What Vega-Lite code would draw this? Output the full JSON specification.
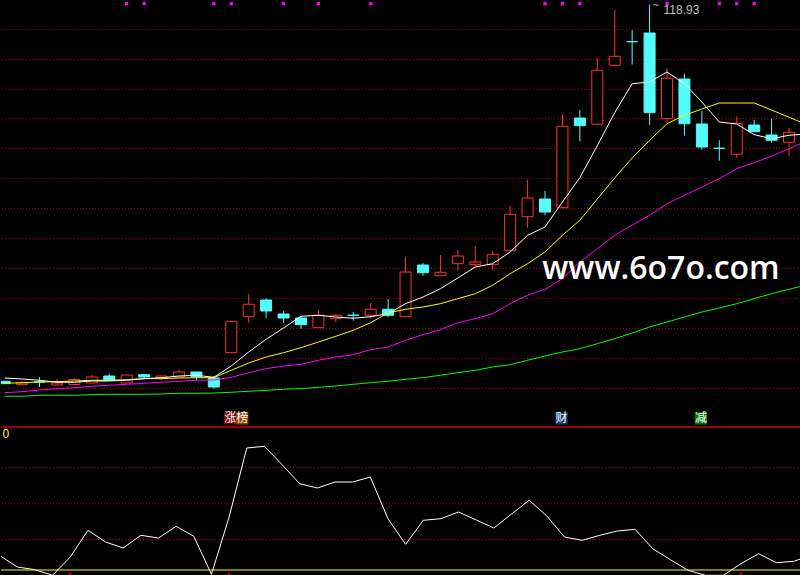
{
  "$schema": "https://vega.github.io/schema/vega-lite/v6.json",
  "background": "#000000",
  "padding": 0,
  "spacing": 0,
  "config": {"view": {"stroke": null}, "concat": {"spacing": 0}},
  "datasets": {
    "candles": [
      {"i": -1, "open": 24.78, "high": 24.78, "low": 24.18, "close": 24.18, "ma5": 25.6, "ma10": 24.28, "ma20": 21.93, "ma60": 21.03, "sig": 0},
      {"i": 0, "open": 23.93, "high": 24.85, "low": 23.85, "close": 24.35, "ma5": 25.35, "ma10": 24.43, "ma20": 22.18, "ma60": 21.03, "sig": 0},
      {"i": 1, "open": 24.6, "high": 25.85, "low": 23.35, "close": 24.6, "ma5": 25.03, "ma10": 24.6, "ma20": 22.6, "ma60": 21.28, "sig": 0},
      {"i": 2, "open": 23.85, "high": 25.35, "low": 23.68, "close": 24.35, "ma5": 24.53, "ma10": 24.68, "ma20": 22.93, "ma60": 21.28, "sig": 0},
      {"i": 3, "open": 23.98, "high": 25.6, "low": 23.85, "close": 25.23, "ma5": 24.53, "ma10": 24.85, "ma20": 23.18, "ma60": 21.28, "sig": 0},
      {"i": 4, "open": 24.35, "high": 26.35, "low": 24.35, "close": 25.85, "ma5": 24.85, "ma10": 25.03, "ma20": 23.53, "ma60": 21.43, "sig": 0},
      {"i": 5, "open": 26.1, "high": 26.6, "low": 25.03, "close": 25.03, "ma5": 24.85, "ma10": 25.03, "ma20": 23.78, "ma60": 21.53, "sig": 0},
      {"i": 6, "open": 24.35, "high": 26.35, "low": 24.35, "close": 26.35, "ma5": 25.03, "ma10": 25.18, "ma20": 24.03, "ma60": 21.53, "sig": 1},
      {"i": 7, "open": 26.43, "high": 26.68, "low": 25.6, "close": 25.85, "ma5": 25.43, "ma10": 25.43, "ma20": 24.28, "ma60": 21.53, "sig": 1},
      {"i": 8, "open": 25.73, "high": 26.1, "low": 25.1, "close": 26.1, "ma5": 25.68, "ma10": 25.43, "ma20": 24.53, "ma60": 21.6, "sig": 0},
      {"i": 9, "open": 25.85, "high": 27.68, "low": 25.85, "close": 27.1, "ma5": 26.1, "ma10": 25.6, "ma20": 24.78, "ma60": 21.78, "sig": 0},
      {"i": 10, "open": 27.1, "high": 27.1, "low": 25.1, "close": 25.93, "ma5": 26.28, "ma10": 25.68, "ma20": 25.03, "ma60": 21.78, "sig": 0},
      {"i": 11, "open": 25.6, "high": 26.1, "low": 22.93, "close": 23.35, "ma5": 25.78, "ma10": 25.68, "ma20": 25.1, "ma60": 21.85, "sig": 1},
      {"i": 12, "open": 31.93, "high": 39.78, "low": 31.93, "close": 39.78, "ma5": 28.6, "ma10": 27.53, "ma20": 25.78, "ma60": 22.03, "sig": 1},
      {"i": 13, "open": 40.93, "high": 46.6, "low": 39.43, "close": 44.03, "ma5": 32.1, "ma10": 29.35, "ma20": 26.93, "ma60": 22.28, "sig": 0},
      {"i": 14, "open": 45.1, "high": 45.53, "low": 40.6, "close": 42.35, "ma5": 35.28, "ma10": 30.85, "ma20": 27.93, "ma60": 22.53, "sig": 0},
      {"i": 15, "open": 41.6, "high": 42.35, "low": 39.43, "close": 40.6, "ma5": 38.1, "ma10": 31.93, "ma20": 28.6, "ma60": 22.78, "sig": 1},
      {"i": 16, "open": 40.6, "high": 41.03, "low": 37.93, "close": 38.93, "ma5": 41.03, "ma10": 33.18, "ma20": 29.03, "ma60": 22.93, "sig": 0},
      {"i": 17, "open": 38.18, "high": 42.6, "low": 38.18, "close": 41.28, "ma5": 41.28, "ma10": 34.6, "ma20": 30.03, "ma60": 23.28, "sig": 1},
      {"i": 18, "open": 40.43, "high": 41.53, "low": 39.6, "close": 41.28, "ma5": 40.85, "ma10": 36.03, "ma20": 30.85, "ma60": 23.6, "sig": 0},
      {"i": 19, "open": 41.28, "high": 42.1, "low": 39.93, "close": 41.28, "ma5": 40.53, "ma10": 37.53, "ma20": 31.43, "ma60": 24.03, "sig": 0},
      {"i": 20, "open": 41.28, "high": 44.35, "low": 40.43, "close": 42.78, "ma5": 40.93, "ma10": 39.43, "ma20": 32.68, "ma60": 24.43, "sig": 1},
      {"i": 21, "open": 42.78, "high": 45.35, "low": 40.78, "close": 41.28, "ma5": 41.68, "ma10": 41.85, "ma20": 33.35, "ma60": 24.78, "sig": 0},
      {"i": 22, "open": 40.93, "high": 55.85, "low": 40.93, "close": 52.1, "ma5": 44.18, "ma10": 42.78, "ma20": 35.03, "ma60": 25.28, "sig": 0},
      {"i": 23, "open": 53.85, "high": 54.35, "low": 51.18, "close": 51.93, "ma5": 45.85, "ma10": 43.35, "ma20": 36.43, "ma60": 25.68, "sig": 0},
      {"i": 24, "open": 51.18, "high": 56.35, "low": 51.18, "close": 52.03, "ma5": 47.93, "ma10": 44.18, "ma20": 37.68, "ma60": 26.28, "sig": 0},
      {"i": 25, "open": 54.18, "high": 57.6, "low": 52.43, "close": 56.1, "ma5": 50.6, "ma10": 45.43, "ma20": 39.43, "ma60": 26.93, "sig": 0},
      {"i": 26, "open": 53.93, "high": 58.6, "low": 53.18, "close": 54.6, "ma5": 53.35, "ma10": 46.68, "ma20": 40.43, "ma60": 27.53, "sig": 0},
      {"i": 27, "open": 53.93, "high": 57.28, "low": 52.68, "close": 56.53, "ma5": 54.18, "ma10": 48.78, "ma20": 41.68, "ma60": 28.35, "sig": 0},
      {"i": 28, "open": 57.43, "high": 68.6, "low": 57.43, "close": 66.53, "ma5": 57.1, "ma10": 51.68, "ma20": 44.18, "ma60": 28.93, "sig": 0},
      {"i": 29, "open": 65.93, "high": 75.18, "low": 63.18, "close": 70.6, "ma5": 61.28, "ma10": 54.18, "ma20": 46.28, "ma60": 30.03, "sig": 0},
      {"i": 30, "open": 70.35, "high": 72.35, "low": 66.28, "close": 67.1, "ma5": 63.35, "ma10": 57.1, "ma20": 47.78, "ma60": 31.1, "sig": 1},
      {"i": 31, "open": 68.18, "high": 91.53, "low": 68.18, "close": 88.53, "ma5": 69.6, "ma10": 61.28, "ma20": 50.43, "ma60": 32.1, "sig": 1},
      {"i": 32, "open": 90.6, "high": 92.6, "low": 84.78, "close": 88.68, "ma5": 75.68, "ma10": 65.03, "ma20": 54.6, "ma60": 32.93, "sig": 1},
      {"i": 33, "open": 89.03, "high": 105.6, "low": 89.03, "close": 102.53, "ma5": 83.68, "ma10": 70.35, "ma20": 57.93, "ma60": 34.18, "sig": 0},
      {"i": 34, "open": 103.78, "high": 117.6, "low": 103.78, "close": 106.03, "ma5": 91.93, "ma10": 75.63, "ma20": 61.28, "ma60": 35.43, "sig": 0},
      {"i": 35, "open": 109.68, "high": 112.6, "low": 103.93, "close": 109.68, "ma5": 99.18, "ma10": 80.6, "ma20": 63.78, "ma60": 36.85, "sig": 0},
      {"i": 36, "open": 111.85, "high": 118.93, "low": 88.93, "close": 91.93, "ma5": 99.6, "ma10": 85.03, "ma20": 66.28, "ma60": 38.35, "sig": 0},
      {"i": 37, "open": 90.43, "high": 103.1, "low": 89.43, "close": 100.53, "ma5": 102.1, "ma10": 89.18, "ma20": 69.18, "ma60": 39.6, "sig": 1},
      {"i": 38, "open": 100.35, "high": 101.68, "low": 86.18, "close": 89.18, "ma5": 99.18, "ma10": 91.28, "ma20": 71.28, "ma60": 40.85, "sig": 0},
      {"i": 39, "open": 89.1, "high": 92.35, "low": 82.68, "close": 83.35, "ma5": 94.6, "ma10": 92.85, "ma20": 73.35, "ma60": 42.1, "sig": 0},
      {"i": 40, "open": 83.03, "high": 85.03, "low": 79.93, "close": 83.03, "ma5": 89.6, "ma10": 94.35, "ma20": 75.43, "ma60": 43.1, "sig": 1},
      {"i": 41, "open": 81.53, "high": 91.03, "low": 80.68, "close": 89.28, "ma5": 89.1, "ma10": 94.35, "ma20": 77.93, "ma60": 44.18, "sig": 1},
      {"i": 42, "open": 88.85, "high": 90.18, "low": 87.18, "close": 87.18, "ma5": 86.43, "ma10": 94.35, "ma20": 79.43, "ma60": 45.43, "sig": 1},
      {"i": 43, "open": 86.35, "high": 90.35, "low": 84.43, "close": 85.03, "ma5": 85.43, "ma10": 92.6, "ma20": 81.1, "ma60": 46.68, "sig": 0},
      {"i": 44, "open": 84.53, "high": 88.1, "low": 81.03, "close": 87.03, "ma5": 86.28, "ma10": 90.78, "ma20": 82.93, "ma60": 47.78, "sig": 0},
      {"i": 45, "ma5": 86.6, "ma10": 88.98, "ma20": 84.85, "ma60": 48.85, "sig": 0}
    ],
    "osc": [
      {"i": -1, "v": 10.07, "sig": 0}, {"i": 0, "v": 2.08, "sig": 0}, {"i": 1, "v": 0.21, "sig": 0},
      {"i": 2, "v": -3.68, "sig": 0}, {"i": 3, "v": 9.03, "sig": 1}, {"i": 4, "v": 27.57, "sig": 0},
      {"i": 5, "v": 19.44, "sig": 0}, {"i": 6, "v": 15.28, "sig": 0}, {"i": 7, "v": 24.1, "sig": 0},
      {"i": 8, "v": 22.22, "sig": 0}, {"i": 9, "v": 30.35, "sig": 0}, {"i": 10, "v": 23.4, "sig": 0},
      {"i": 11, "v": -2.99, "sig": 0}, {"i": 12, "v": 36.81, "sig": 1}, {"i": 13, "v": 84.72, "sig": 0},
      {"i": 14, "v": 85.9, "sig": 0}, {"i": 15, "v": 73.13, "sig": 0}, {"i": 16, "v": 59.93, "sig": 0},
      {"i": 17, "v": 56.94, "sig": 0}, {"i": 18, "v": 61.11, "sig": 0}, {"i": 19, "v": 61.11, "sig": 0},
      {"i": 20, "v": 64.58, "sig": 0}, {"i": 21, "v": 35.63, "sig": 0}, {"i": 22, "v": 17.85, "sig": 0},
      {"i": 23, "v": 34.51, "sig": 0}, {"i": 24, "v": 35.63, "sig": 0}, {"i": 25, "v": 40.28, "sig": 0},
      {"i": 26, "v": 34.72, "sig": 0}, {"i": 27, "v": 29.17, "sig": 0}, {"i": 28, "v": 38.89, "sig": 0},
      {"i": 29, "v": 48.4, "sig": 0}, {"i": 30, "v": 37.5, "sig": 0}, {"i": 31, "v": 22.92, "sig": 0},
      {"i": 32, "v": 20.63, "sig": 0}, {"i": 33, "v": 24.1, "sig": 0}, {"i": 34, "v": 27.08, "sig": 0},
      {"i": 35, "v": 28.26, "sig": 0}, {"i": 36, "v": 14.79, "sig": 0}, {"i": 37, "v": 7.15, "sig": 0},
      {"i": 38, "v": -0.21, "sig": 0}, {"i": 39, "v": -3.68, "sig": 0}, {"i": 40, "v": -3.68, "sig": 0},
      {"i": 41, "v": 4.38, "sig": 1}, {"i": 42, "v": 11.32, "sig": 0}, {"i": 43, "v": 5.07, "sig": 0},
      {"i": 44, "v": 6.04, "sig": 0}, {"i": 45, "v": 10.42, "sig": 0}
    ],
    "events": [
      {"i": 12, "tag": "涨榜"},
      {"i": 31, "tag": "财"},
      {"i": 39, "tag": "减"}
    ],
    "priceGrid": [
      {"p": 112.725}, {"p": 105.225}, {"p": 97.725}, {"p": 90.475}, {"p": 82.975}, {"p": 75.475}, {"p": 67.975},
      {"p": 60.475}, {"p": 52.975}, {"p": 45.475}, {"p": 37.975}, {"p": 30.475}, {"p": 22.975}
    ],
    "oscGrid": [{"v": 71.18}, {"v": 46.18}, {"v": 21.18}]
  },
  "vconcat": [
    {
      "width": 800,
      "height": 424,
      "data": {"name": "candles"},
      "layer": [
        {
          "data": {"name": "priceGrid"},
          "mark": {"type": "rule", "strokeWidth": 1, "color": "#B40000", "strokeDash": [1, 2]},
          "encoding": {
            "y": {"field": "p", "type": "quantitative", "scale": {"domain": [13.6, 119.6], "nice": false, "zero": false}, "axis": null}
          }
        },
        {
          "mark": {"type": "rule", "strokeWidth": 1, "clip": true},
          "encoding": {
            "x": {"field": "i", "type": "quantitative", "scale": {"domain": [-0.9235, 44.4], "nice": false, "zero": false}, "axis": null},
            "y": {"field": "low", "type": "quantitative", "scale": {"domain": [13.6, 119.6], "nice": false, "zero": false}, "axis": null},
            "y2": {"field": "high"},
            "color": {"condition": {"test": "datum.close > datum.open", "value": "#FF3232"}, "value": "#54FCFC"}
          }
        },
        {
          "mark": {"type": "bar", "width": 11, "strokeWidth": 1, "clip": true},
          "encoding": {
            "x": {"field": "i", "type": "quantitative", "scale": {"domain": [-0.9235, 44.4], "nice": false, "zero": false}, "axis": null},
            "y": {"field": "open", "type": "quantitative", "scale": {"domain": [13.6, 119.6], "nice": false, "zero": false}, "axis": null},
            "y2": {"field": "close"},
            "fill": {"condition": {"test": "datum.close > datum.open", "value": "#000000"}, "value": "#54FCFC"},
            "stroke": {"condition": {"test": "datum.close > datum.open", "value": "#FF3232"}, "value": "#54FCFC"}
          }
        },
        {
          "mark": {"type": "line", "strokeWidth": 1, "color": "#00FF00", "clip": true},
          "encoding": {
            "x": {"field": "i", "type": "quantitative", "scale": {"domain": [-0.9235, 44.4], "nice": false, "zero": false}, "axis": null},
            "y": {"field": "ma60", "type": "quantitative", "scale": {"domain": [13.6, 119.6], "nice": false, "zero": false}, "axis": null}
          }
        },
        {
          "mark": {"type": "line", "strokeWidth": 1, "color": "#FF00FF", "clip": true},
          "encoding": {
            "x": {"field": "i", "type": "quantitative", "scale": {"domain": [-0.9235, 44.4], "nice": false, "zero": false}, "axis": null},
            "y": {"field": "ma20", "type": "quantitative", "scale": {"domain": [13.6, 119.6], "nice": false, "zero": false}, "axis": null}
          }
        },
        {
          "mark": {"type": "line", "strokeWidth": 1, "color": "#FFFF00", "clip": true},
          "encoding": {
            "x": {"field": "i", "type": "quantitative", "scale": {"domain": [-0.9235, 44.4], "nice": false, "zero": false}, "axis": null},
            "y": {"field": "ma10", "type": "quantitative", "scale": {"domain": [13.6, 119.6], "nice": false, "zero": false}, "axis": null}
          }
        },
        {
          "mark": {"type": "line", "strokeWidth": 1, "color": "#FFFFFF", "clip": true},
          "encoding": {
            "x": {"field": "i", "type": "quantitative", "scale": {"domain": [-0.9235, 44.4], "nice": false, "zero": false}, "axis": null},
            "y": {"field": "ma5", "type": "quantitative", "scale": {"domain": [13.6, 119.6], "nice": false, "zero": false}, "axis": null}
          }
        },
        {
          "transform": [{"filter": "datum.sig == 1"}],
          "mark": {"type": "point", "shape": "square", "filled": true, "size": 11, "opacity": 1, "color": "#FF00FF"},
          "encoding": {
            "x": {"field": "i", "type": "quantitative", "scale": {"domain": [-0.9235, 44.4], "nice": false, "zero": false}, "axis": null},
            "y": {"datum": 119.2, "type": "quantitative", "scale": {"domain": [13.6, 119.6], "nice": false, "zero": false}, "axis": null}
          }
        },
        {
          "transform": [{"joinaggregate": [{"op": "max", "field": "high", "as": "hmax"}]}, {"filter": "datum.high == datum.hmax"}],
          "mark": {"type": "text", "align": "left", "baseline": "middle", "dx": 14, "dy": 5.5, "font": "Liberation Sans", "fontSize": 12, "color": "#C0C0C0"},
          "encoding": {
            "x": {"field": "i", "type": "quantitative", "scale": {"domain": [-0.9235, 44.4], "nice": false, "zero": false}, "axis": null},
            "y": {"field": "high", "type": "quantitative", "scale": {"domain": [13.6, 119.6], "nice": false, "zero": false}, "axis": null},
            "text": {"field": "high", "format": ".2f"}
          }
        },
        {
          "transform": [{"joinaggregate": [{"op": "max", "field": "high", "as": "hmax"}]}, {"filter": "datum.high == datum.hmax"}],
          "mark": {"type": "text", "align": "left", "baseline": "middle", "dx": 3, "dy": 1.5, "font": "Liberation Sans", "fontSize": 11, "color": "#C0C0C0"},
          "encoding": {
            "x": {"field": "i", "type": "quantitative", "scale": {"domain": [-0.9235, 44.4], "nice": false, "zero": false}, "axis": null},
            "y": {"field": "high", "type": "quantitative", "scale": {"domain": [13.6, 119.6], "nice": false, "zero": false}, "axis": null},
            "text": {"value": "~"}
          }
        },
        {
          "data": {"name": "events"},
          "mark": {"type": "point", "shape": "square", "filled": true, "size": 150, "opacity": 1, "xOffset": -1},
          "encoding": {
            "x": {"field": "i", "type": "quantitative", "scale": {"domain": [-0.9235, 44.4], "nice": false, "zero": false}, "axis": null},
            "y": {"datum": 15.5, "type": "quantitative", "scale": {"domain": [13.6, 119.6], "nice": false, "zero": false}, "axis": null},
            "color": {"field": "tag", "type": "nominal", "scale": {"domain": ["涨榜", "财", "减"], "range": ["#800000", "#0F3F70", "#007800"]}, "legend": null}
          }
        },
        {
          "data": {"name": "events"},
          "transform": [{"filter": "datum.tag == '涨榜'"}],
          "mark": {"type": "point", "shape": "square", "filled": true, "size": 150, "opacity": 1, "xOffset": 11, "color": "#8B4500"},
          "encoding": {
            "x": {"field": "i", "type": "quantitative", "scale": {"domain": [-0.9235, 44.4], "nice": false, "zero": false}, "axis": null},
            "y": {"datum": 15.5, "type": "quantitative", "scale": {"domain": [13.6, 119.6], "nice": false, "zero": false}, "axis": null}
          }
        },
        {
          "data": {"name": "events"},
          "mark": {"type": "text", "align": "left", "baseline": "middle", "dx": -7, "font": "Noto Sans CJK SC", "fontSize": 12, "color": "#FFFFFF"},
          "encoding": {
            "x": {"field": "i", "type": "quantitative", "scale": {"domain": [-0.9235, 44.4], "nice": false, "zero": false}, "axis": null},
            "y": {"datum": 15.5, "type": "quantitative", "scale": {"domain": [13.6, 119.6], "nice": false, "zero": false}, "axis": null},
            "text": {"field": "tag"}
          }
        },
        {
          "data": {"values": [{}]},
          "mark": {"type": "text", "align": "left", "baseline": "alphabetic", "font": "Open Sans", "fontWeight": 600, "fontSize": 32, "color": "#FFFFFF"},
          "encoding": {
            "x": {"datum": 29.84, "type": "quantitative", "scale": {"domain": [-0.9235, 44.4], "nice": false, "zero": false}, "axis": null},
            "y": {"datum": 50.35, "type": "quantitative", "scale": {"domain": [13.6, 119.6], "nice": false, "zero": false}, "axis": null},
            "text": {"value": "www.6o7o.com"}
          }
        }
      ]
    },
    {
      "width": 800,
      "height": 151,
      "data": {"name": "osc"},
      "layer": [
        {
          "data": {"name": "oscGrid"},
          "mark": {"type": "rule", "strokeWidth": 1, "color": "#B40000", "strokeDash": [1, 2]},
          "encoding": {
            "y": {"field": "v", "type": "quantitative", "scale": {"domain": [-4.86, 100], "nice": false, "zero": false}, "axis": null}
          }
        },
        {
          "mark": {"type": "line", "strokeWidth": 1, "color": "#FFFFFF", "clip": true},
          "encoding": {
            "x": {"field": "i", "type": "quantitative", "scale": {"domain": [-0.9235, 44.4], "nice": false, "zero": false}, "axis": null},
            "y": {"field": "v", "type": "quantitative", "scale": {"domain": [-4.86, 100], "nice": false, "zero": false}, "axis": null}
          }
        },
        {
          "data": {"values": [{}]},
          "mark": {"type": "rule", "strokeWidth": 1.2, "color": "#FFFF00"},
          "encoding": {
            "y": {"datum": 0, "type": "quantitative", "scale": {"domain": [-4.86, 100], "nice": false, "zero": false}, "axis": null}
          }
        },
        {
          "data": {"values": [{}]},
          "mark": {"type": "rule", "strokeWidth": 1.5, "color": "#D00000"},
          "encoding": {
            "y": {"datum": 99.31, "type": "quantitative", "scale": {"domain": [-4.86, 100], "nice": false, "zero": false}, "axis": null}
          }
        },
        {
          "transform": [{"filter": "datum.sig == 1"}],
          "mark": {"type": "point", "shape": "triangle-up", "filled": true, "size": 40, "opacity": 1, "color": "#FF0000", "clip": true},
          "encoding": {
            "x": {"field": "i", "type": "quantitative", "scale": {"domain": [-0.9235, 44.4], "nice": false, "zero": false}, "axis": null},
            "y": {"datum": -3.4, "type": "quantitative", "scale": {"domain": [-4.86, 100], "nice": false, "zero": false}, "axis": null}
          }
        },
        {
          "data": {"values": [{}]},
          "mark": {"type": "text", "align": "left", "baseline": "middle", "dx": 1.5, "font": "Liberation Sans", "fontSize": 12, "color": "#FFFF00"},
          "encoding": {
            "x": {"datum": -0.9235, "type": "quantitative", "scale": {"domain": [-0.9235, 44.4], "nice": false, "zero": false}, "axis": null},
            "y": {"datum": 94.1, "type": "quantitative", "scale": {"domain": [-4.86, 100], "nice": false, "zero": false}, "axis": null},
            "text": {"value": "0"}
          }
        }
      ]
    }
  ]
}
